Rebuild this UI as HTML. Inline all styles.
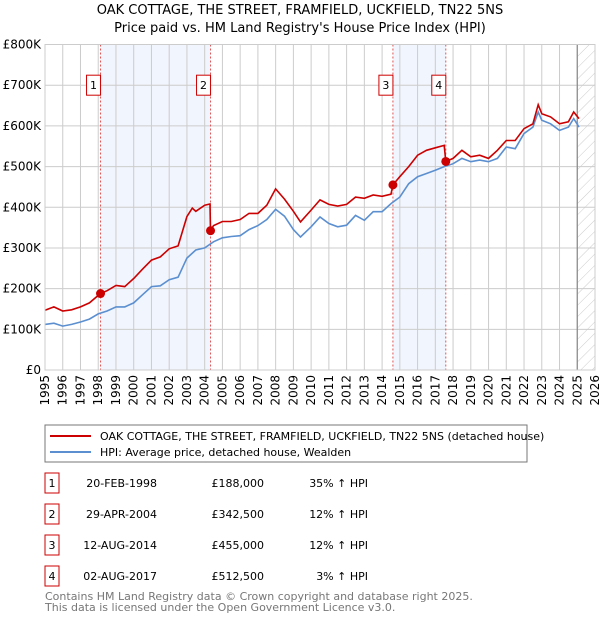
<!DOCTYPE html>
<html><head><meta charset="utf-8"><style>
body{margin:0;background:#fff;font-family:"Liberation Sans","DejaVu Sans",sans-serif;}
svg{display:block}
</style></head><body>
<svg id="chart" width="600" height="620" xmlns="http://www.w3.org/2000/svg" font-family="DejaVu Sans, Liberation Sans, sans-serif">
<text x="300" y="14" text-anchor="middle" font-size="13" fill="#000">OAK COTTAGE, THE STREET, FRAMFIELD, UCKFIELD, TN22 5NS</text>
<text x="300" y="32" text-anchor="middle" font-size="13" fill="#000">Price paid vs. HM Land Registry's House Price Index (HPI)</text>
<defs><pattern id="hatch" width="8" height="8" patternUnits="userSpaceOnUse" patternTransform="rotate(45)"><line x1="0" y1="0" x2="0" y2="8" stroke="#ccc" stroke-width="1"/></pattern></defs>
<g id="plot"></g>
<g>
<rect x="45" y="425" width="482" height="37" fill="#fff" stroke="#777"/>
<line x1="50" y1="436" x2="91" y2="436" stroke="#cc0000" stroke-width="2"/>
<text x="100" y="440" font-size="11">OAK COTTAGE, THE STREET, FRAMFIELD, UCKFIELD, TN22 5NS (detached house)</text>
<line x1="50" y1="452" x2="91" y2="452" stroke="#5b8fd0" stroke-width="2"/>
<text x="100" y="456" font-size="11">HPI: Average price, detached house, Wealden</text>
</g>
<g id="table" font-size="11"></g>
<text x="45" y="600" font-size="11" fill="#777">Contains HM Land Registry data © Crown copyright and database right 2025.</text>
<text x="45" y="611" font-size="11" fill="#777">This data is licensed under the Open Government Licence v3.0.</text>
</svg>
<script>
const yTicks=[0,100,200,300,400,500,600,700,800];
const yTickLabels=["£0","£100K","£200K","£300K","£400K","£500K","£600K","£700K","£800K"];
const xYears=[1995,1996,1997,1998,1999,2000,2001,2002,2003,2004,2005,2006,2007,2008,2009,2010,2011,2012,2013,2014,2015,2016,2017,2018,2019,2020,2021,2022,2023,2024,2025,2026];
const redT=[1995,1995.5,1996,1996.5,1997,1997.5,1998.13,1998.5,1999,1999.5,2000,2000.5,2001,2001.5,2002,2002.5,2003,2003.3,2003.5,2004,2004.3,2004.33,2004.5,2005,2005.5,2006,2006.5,2007,2007.5,2008,2008.5,2009,2009.4,2010,2010.5,2011,2011.5,2012,2012.5,2013,2013.5,2014,2014.5,2014.61,2015,2015.5,2016,2016.5,2017,2017.5,2017.59,2018,2018.5,2019,2019.5,2020,2020.5,2021,2021.5,2022,2022.5,2022.8,2023,2023.5,2024,2024.5,2024.8,2025.1];
const redV=[147,155,145,148,155,165,188,195,208,205,225,248,270,278,298,305,377,398,390,405,408,342.5,355,365,365,370,385,385,405,445,420,390,364,393,418,407,403,407,425,422,430,427,432,455,475,500,528,540,546,552,512.5,520,540,524,528,520,540,564,564,593,605,652,630,622,605,610,634,618];
const hpiT=[1995,1995.5,1996,1996.5,1997,1997.5,1998,1998.5,1999,1999.5,2000,2000.5,2001,2001.5,2002,2002.5,2003,2003.5,2004,2004.5,2005,2005.5,2006,2006.5,2007,2007.5,2008,2008.5,2009,2009.4,2010,2010.5,2011,2011.5,2012,2012.5,2013,2013.5,2014,2014.5,2015,2015.5,2016,2016.5,2017,2017.5,2018,2018.5,2019,2019.5,2020,2020.5,2021,2021.5,2022,2022.5,2022.8,2023,2023.5,2024,2024.5,2024.8,2025.1];
const hpiV=[112,115,108,112,118,125,138,145,155,155,165,185,205,207,222,228,275,295,300,315,325,328,330,345,355,370,395,378,345,327,352,376,360,352,356,380,368,389,389,409,425,458,475,483,491,500,507,520,512,516,512,520,548,544,581,597,634,614,605,589,597,618,597];
const saleT=[1998.13,2004.33,2014.61,2017.59];
const saleV=[188,342.5,455,512.5];
const saleLabels=["1","2","3","4"];
const saleDates=["20-FEB-1998","29-APR-2004","12-AUG-2014","02-AUG-2017"];
const salePrices=["£188,000","£342,500","£455,000","£512,500"];
const salePct=["35% ↑ HPI","12% ↑ HPI","12% ↑ HPI","3% ↑ HPI"];

const L=45,R=595,T=44.5,B=370;
const x=t=>L+(t-1995)/(2026-1995)*(R-L);
const y=v=>B-v/800*(B-T);
const NS="http://www.w3.org/2000/svg";
const g=document.getElementById('plot');
function mk(tag,attrs,parent){const e=document.createElementNS(NS,tag);for(const k in attrs)e.setAttribute(k,attrs[k]);(parent||g).appendChild(e);return e;}
// shaded spans
for(const [a,b] of [[0,1],[2,3]]){
 const r=mk('rect',{x:x(saleT[a]),y:T,width:x(saleT[b])-x(saleT[a]),height:B-T,fill:'#eef3fd',opacity:0.8});
 
 
}
// hatch future
const hz=mk('rect',{x:x(2025),y:T,width:R-x(2025),height:B-T,fill:'url(#hatch)'});


// grid
xYears.forEach(yr=>{
 const l=mk('line',{x1:x(yr),x2:x(yr),y1:T,y2:B,stroke:'#ccc','stroke-width':1});
 
 
 const t=mk('text',{x:0,y:0,'font-size':12,'text-anchor':'end',transform:`translate(${x(yr)+4},${B+5}) rotate(-90)`});
 t.textContent=yr;
 
 
});
yTicks.forEach((v,i)=>{
 const l=mk('line',{x1:L,x2:R,y1:y(v),y2:y(v),stroke:'#ccc','stroke-width':1});
 
 
 const t=mk('text',{x:L-4,y:y(v)+4,'font-size':12,'text-anchor':'end'});
 t.textContent=yTickLabels[i];
 
 
});
const nl=mk('line',{x1:x(2025),x2:x(2025),y1:T,y2:B,stroke:'#888','stroke-width':1.2});


// sale vertical lines
saleT.forEach(t=>{
 const l=mk('line',{x1:x(t),x2:x(t),y1:T,y2:B,stroke:'#e05555','stroke-width':1,'stroke-dasharray':'2,2'});
 
 
});
const hp=mk('path',{d:hpiT.map((t,i)=>(i?'L':'M')+x(t).toFixed(1)+','+y(hpiV[i]).toFixed(1)).join(''),fill:'none',stroke:'#5b8fd0','stroke-width':1.6});


const rp=mk('path',{d:redT.map((t,i)=>(i?'L':'M')+x(t).toFixed(1)+','+y(redV[i]).toFixed(1)).join(''),fill:'none',stroke:'#cc0000','stroke-width':1.6});


saleT.forEach((t,i)=>{
 const c=mk('circle',{cx:x(t),cy:y(saleV[i]),r:4.5,fill:'#cc0000'});
 
 
 const bx=mk('rect',{x:x(t)-14,y:y(700)-10,width:14,height:20,fill:'#fff',stroke:'#cc0000','stroke-width':1});
 
 
 const tx=mk('text',{x:x(t)-7,y:y(700)+4,'font-size':11,'text-anchor':'middle'});
 tx.textContent=saleLabels[i];
 
 
});
const fr=mk('rect',{x:L,y:T,width:R-L,height:B-T,fill:'none',stroke:'#ccc'});


// table
const tb=document.getElementById('table');
saleLabels.forEach((lab,i)=>{
 const cy=483+i*31;
 const row=mk('g',{},tb);
 
 
 mk('rect',{x:45,y:cy-10,width:14,height:20,fill:'#fff',stroke:'#cc0000'},row);
 const a=mk('text',{x:52,y:cy+4,'text-anchor':'middle'},row);a.textContent=lab;
 const d=mk('text',{x:157,y:cy+4,'text-anchor':'end'},row);d.textContent=saleDates[i];
 const p=mk('text',{x:264,y:cy+4,'text-anchor':'end'},row);p.textContent=salePrices[i];
 const q=mk('text',{x:368,y:cy+4,'text-anchor':'end'},row);q.textContent=salePct[i];
});
</script>
</body></html>
